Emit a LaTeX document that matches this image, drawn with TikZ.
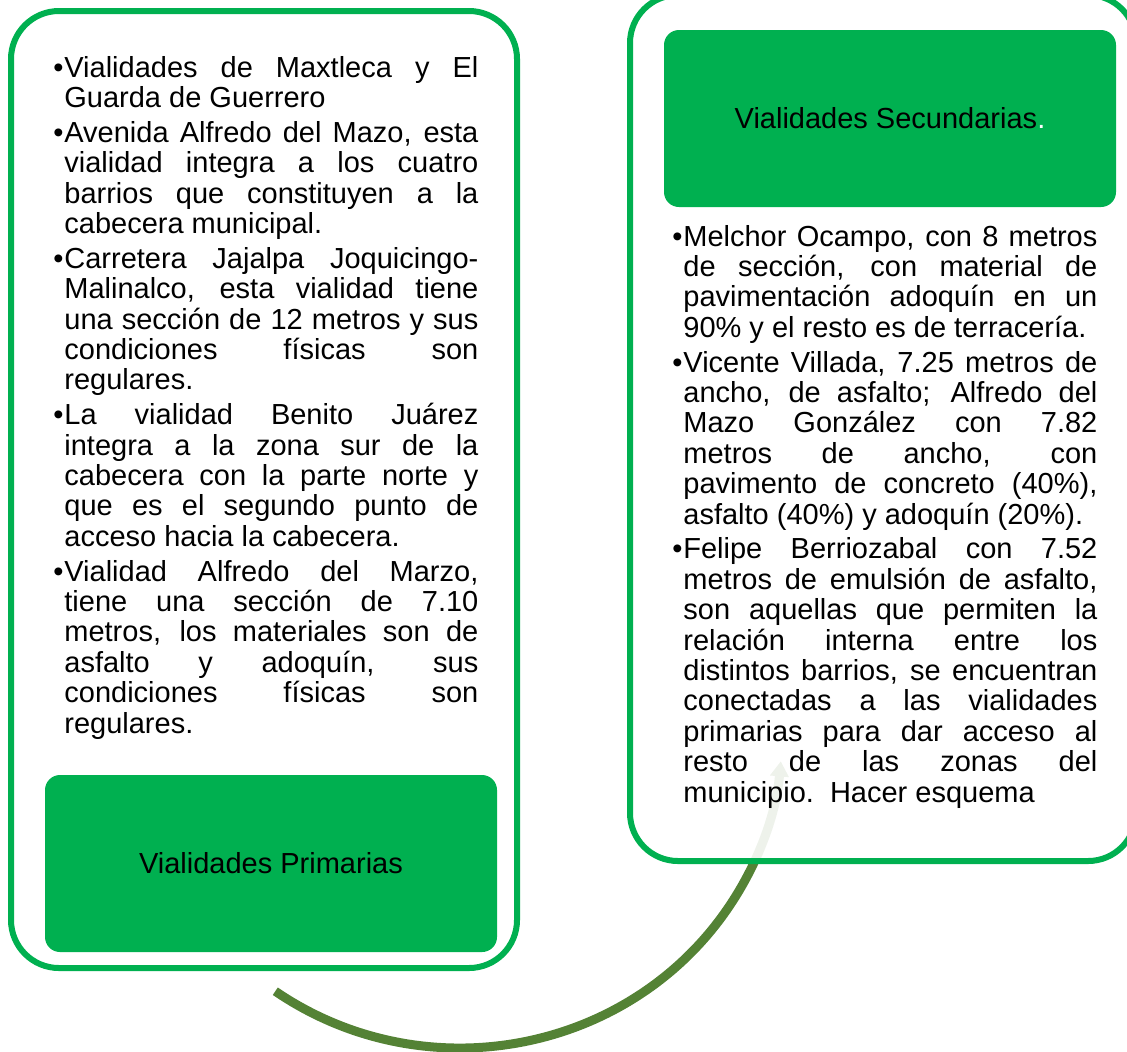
\documentclass[tikz,border=0pt]{standalone}
\usepackage{fontspec}
\setmainfont{Liberation Sans}
\usepackage{xcolor}
\usetikzlibrary{arrows.meta}
\definecolor{verde}{HTML}{00B050}
\definecolor{olivo}{HTML}{548235}
\newcommand{\cuerpo}{\fontsize{14.5}{15.2}\selectfont}
\newcommand{\vineta}[1]{\hangindent=5.5pt\hangafter=1\makebox[5.5pt][l]{\textbullet}#1\par}
\tikzset{%
  puntaO/.tip={Triangle[width=9pt,length=7.5pt]},
  marco/.style={draw=verde, line width=3pt, rounded corners=24pt},
  bloque/.style={fill=verde, rounded corners=7.5pt, minimum width=226pt, minimum height=88.5pt, inner sep=0pt, font=\cuerpo},
  lista/.style={anchor=base west, inner sep=0pt, text width=212.5pt, align=justify, font=\cuerpo},
  flecha/.style={draw=olivo, line width=4.5pt, -puntaO}
}

\begin{document}
\begin{tikzpicture}[x=0.5pt,y=-0.5pt]
\useasboundingbox (0,0) rectangle (1127,1051);
\clip (0,0) rectangle (1127,1051);
\draw[marco] (11,11) rectangle (517,968);
\node[bloque] (primarias) at (271,863.5) {Vialidades Primarias};
\node[lista] (textoprim) at (53,77) {\cuerpo\parskip=2.2pt\tolerance=10000\hyphenpenalty=10000
\vineta{Vialidades de Maxtleca y El\linebreak Guarda de Guerrero}
\vineta{Avenida Alfredo del Mazo, esta\linebreak vialidad integra a los cuatro\linebreak barrios que constituyen a la\linebreak cabecera municipal.}
\vineta{Carretera Jajalpa Joquicingo-\linebreak Malinalco, esta vialidad tiene\linebreak una sección de 12 metros y sus\linebreak condiciones físicas son\linebreak regulares.}
\vineta{La vialidad Benito Juárez\linebreak integra a la zona sur de la\linebreak cabecera con la parte norte y\linebreak que es el segundo punto de\linebreak acceso hacia la cabecera.}
\vineta{Vialidad Alfredo del Marzo,\linebreak tiene una sección de 7.10\linebreak metros, los materiales son de\linebreak asfalto y adoquín, sus\linebreak condiciones físicas son\linebreak regulares.}};
% arco de primarias a secundarias
\coordinate (centro) at (460,734);
\draw[flecha] (centro) ++(125:322 and 314) coordinate (inicio) arc[start angle=125, end angle=5, x radius=322, y radius=314] coordinate (fin);
\draw[marco, fill=white, fill opacity=0.9] (630,-5) rectangle (1136,861);
\node[bloque] (secundarias) at (890,118.5) {Vialidades Secundarias{\color{white}.}};
\node[lista] (textosec) at (672,246) {\cuerpo\parskip=2.2pt\tolerance=10000\hyphenpenalty=10000
\vineta{Melchor Ocampo, con 8 metros\linebreak de sección, con material de\linebreak pavimentación adoquín en un\linebreak 90\% y el resto es de terracería.}
\vineta{Vicente Villada, 7.25 metros de\linebreak ancho, de asfalto; Alfredo del\linebreak Mazo González con 7.82\linebreak metros de ancho, con\linebreak pavimento de concreto (40\%),\linebreak asfalto (40\%) y adoquín (20\%).}
\vineta{Felipe Berriozabal con 7.52\linebreak metros de emulsión de asfalto,\linebreak son aquellas que permiten la\linebreak relación interna entre los\linebreak distintos barrios, se encuentran\linebreak conectadas a las vialidades\linebreak primarias para dar acceso al\linebreak resto de las zonas del\linebreak municipio.\ \ Hacer esquema}};
\end{tikzpicture}
\end{document}
